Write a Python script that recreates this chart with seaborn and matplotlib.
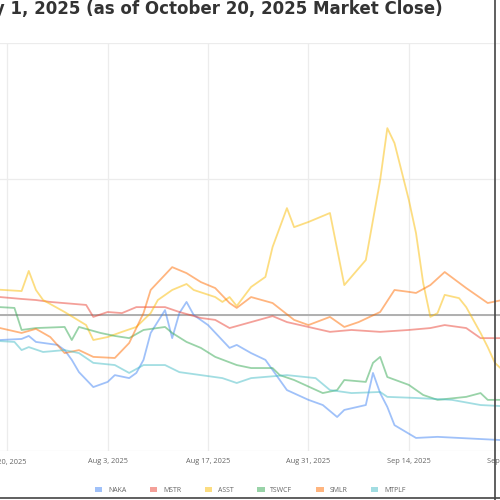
import pandas as pd
import numpy as np
import matplotlib
matplotlib.use("Agg")
import matplotlib.pyplot as plt
from matplotlib.patches import Patch
from matplotlib.lines import Line2D
import seaborn as sns

# % change since Jul 1, 2025
naka_dates = ["2025-07-17", "2025-07-19", "2025-07-22", "2025-07-23", "2025-07-24", "2025-07-27",
              "2025-07-28", "2025-07-29", "2025-07-30", "2025-08-01", "2025-08-03", "2025-08-04",
              "2025-08-06", "2025-08-07", "2025-08-08", "2025-08-09", "2025-08-11", "2025-08-12",
              "2025-08-13", "2025-08-14", "2025-08-15", "2025-08-17", "2025-08-20", "2025-08-21",
              "2025-08-23", "2025-08-25", "2025-08-27", "2025-08-28", "2025-08-31", "2025-09-02",
              "2025-09-04", "2025-09-05", "2025-09-08", "2025-09-09", "2025-09-10", "2025-09-11",
              "2025-09-12", "2025-09-15", "2025-09-18", "2025-09-27", "2025-09-30"]
naka_vals = [-9.6, -9.2, -8.8, -7.7, -9.9, -11.0, -12.9, -16.5, -21.0, -26.5, -24.6, -22.1,
             -23.2, -21.3, -16.5, -6.6, 1.8, -8.5, 0.7, 4.8, 0.0, -3.7, -12.1, -11.0,
             -14.0, -16.5, -23.9, -27.6, -31.2, -33.1, -37.5, -34.9, -33.1, -21.3, -28.7, -33.8,
             -40.5, -45.2, -44.8, -46.0, -46.5]

mstr_dates = ["2025-07-17", "2025-07-19", "2025-07-22", "2025-07-24", "2025-07-26", "2025-07-31",
              "2025-08-01", "2025-08-03", "2025-08-05", "2025-08-07", "2025-08-11", "2025-08-13",
              "2025-08-16", "2025-08-18", "2025-08-20", "2025-08-23", "2025-08-26", "2025-08-28",
              "2025-08-31", "2025-09-03", "2025-09-06", "2025-09-10", "2025-09-14", "2025-09-17",
              "2025-09-19", "2025-09-22", "2025-09-24", "2025-09-27", "2025-09-30"]
mstr_vals = [6.6, 6.6, 5.9, 5.5, 4.8, 3.7, -0.7, 1.1, 0.7, 2.9, 2.9, 1.1,
             -1.1, -1.8, -4.8, -2.6, -0.4, -2.6, -4.4, -6.2, -5.5, -6.2, -5.5, -4.8,
             -3.7, -4.8, -8.5, -8.5, -9.0]

asst_dates = ["2025-07-17", "2025-07-22", "2025-07-23", "2025-07-24", "2025-07-25", "2025-07-28",
              "2025-07-31", "2025-08-01", "2025-08-03", "2025-08-05", "2025-08-07", "2025-08-09",
              "2025-08-10", "2025-08-12", "2025-08-14", "2025-08-15", "2025-08-18", "2025-08-19",
              "2025-08-20", "2025-08-21", "2025-08-23", "2025-08-25", "2025-08-26", "2025-08-28",
              "2025-08-29", "2025-08-31", "2025-09-03", "2025-09-05", "2025-09-08", "2025-09-10",
              "2025-09-11", "2025-09-12", "2025-09-14", "2025-09-15", "2025-09-16", "2025-09-17",
              "2025-09-18", "2025-09-19", "2025-09-21", "2025-09-22", "2025-09-24", "2025-09-25",
              "2025-09-26", "2025-09-29"]
asst_vals = [9.6, 8.8, 16.2, 9.2, 5.5, 1.1, -3.7, -9.2, -8.1, -6.2, -4.4, 0.7,
             5.5, 9.2, 11.4, 9.2, 6.6, 4.8, 6.6, 3.3, 10.3, 14.0, 25.0, 39.3,
             32.3, 34.2, 37.5, 11.0, 20.2, 49.6, 68.7, 63.2, 42.3, 30.1, 11.8, -0.7,
             0.7, 7.4, 6.2, 2.9, -6.6, -11.8, -17.6, -25.0]

tswcf_dates = ["2025-07-17", "2025-07-19", "2025-07-21", "2025-07-22", "2025-07-24", "2025-07-28",
               "2025-07-29", "2025-07-30", "2025-08-02", "2025-08-04", "2025-08-06", "2025-08-08",
               "2025-08-11", "2025-08-12", "2025-08-14", "2025-08-16", "2025-08-18", "2025-08-21",
               "2025-08-23", "2025-08-26", "2025-08-27", "2025-08-29", "2025-09-02", "2025-09-04",
               "2025-09-05", "2025-09-08", "2025-09-09", "2025-09-10", "2025-09-11", "2025-09-14",
               "2025-09-16", "2025-09-18", "2025-09-22", "2025-09-24", "2025-09-25", "2025-09-27",
               "2025-09-30"]
tswcf_vals = [2.9, 2.9, 2.6, -5.5, -4.8, -4.4, -9.2, -4.4, -6.6, -7.7, -8.5, -5.5,
              -4.4, -6.6, -9.9, -12.1, -15.4, -18.4, -19.5, -19.5, -22.1, -23.9, -28.7, -27.6,
              -23.9, -24.6, -17.6, -15.4, -22.8, -25.7, -29.4, -31.2, -30.1, -28.7, -31.2, -31.2,
              -31.5]

smlr_dates = ["2025-07-17", "2025-07-19", "2025-07-22", "2025-07-24", "2025-07-26", "2025-07-28",
              "2025-07-30", "2025-08-01", "2025-08-04", "2025-08-06", "2025-08-08", "2025-08-09",
              "2025-08-12", "2025-08-14", "2025-08-16", "2025-08-18", "2025-08-20", "2025-08-21",
              "2025-08-23", "2025-08-26", "2025-08-29", "2025-08-31", "2025-09-03", "2025-09-05",
              "2025-09-07", "2025-09-10", "2025-09-12", "2025-09-14", "2025-09-15", "2025-09-17",
              "2025-09-19", "2025-09-22", "2025-09-25", "2025-09-27", "2025-09-30"]
smlr_vals = [-4.8, -4.8, -6.6, -5.1, -8.1, -14.0, -12.9, -15.4, -15.8, -10.3, 0.7, 9.2,
             17.6, 15.4, 12.1, 9.9, 4.4, 2.6, 6.6, 4.4, -1.8, -3.7, -0.7, -4.4,
             -2.6, 1.1, 9.2, 8.5, 8.1, 11.0, 15.8, 9.9, 4.4, 5.5, 6.0]

mtplf_dates = ["2025-07-17", "2025-07-19", "2025-07-21", "2025-07-22", "2025-07-23", "2025-07-25",
               "2025-07-28", "2025-07-30", "2025-08-01", "2025-08-04", "2025-08-06", "2025-08-08",
               "2025-08-11", "2025-08-13", "2025-08-16", "2025-08-19", "2025-08-21", "2025-08-23",
               "2025-08-28", "2025-09-01", "2025-09-03", "2025-09-06", "2025-09-10", "2025-09-11",
               "2025-09-15", "2025-09-20", "2025-09-24", "2025-09-27", "2025-09-30"]
mtplf_vals = [-9.6, -9.6, -9.9, -12.9, -11.8, -13.6, -12.9, -14.0, -17.6, -18.4, -21.3, -18.4,
              -18.4, -21.0, -22.1, -23.2, -25.0, -23.2, -22.1, -23.2, -27.6, -28.7, -28.3, -30.1,
              -30.5, -31.2, -33.1, -33.5, -34.0]

tickers = ["NAKA", "MSTR", "ASST", "TSWCF", "SMLR", "MTPLF"]
colors = ["#4285F4", "#EA4335", "#FBBC04", "#34A853", "#FF6D01", "#46BDC6"]
series = {
    "NAKA": (naka_dates, naka_vals),
    "MSTR": (mstr_dates, mstr_vals),
    "ASST": (asst_dates, asst_vals),
    "TSWCF": (tswcf_dates, tswcf_vals),
    "SMLR": (smlr_dates, smlr_vals),
    "MTPLF": (mtplf_dates, mtplf_vals),
}

frames = []
for t in tickers:
    d, v = series[t]
    frames.append(pd.DataFrame({"Date": pd.to_datetime(d), "Change": v, "Ticker": t}))
df = pd.concat(frames, ignore_index=True)

sns.set_style("white")
plt.rcParams["font.family"] = ["Open Sans", "DejaVu Sans"]

fig = plt.figure(figsize=(5, 5), dpi=100)
# the reference is a crop of a wider chart: the axes run past both figure edges
ax = fig.add_axes([-0.258, 0.098, 1.592, 0.816])

palette = dict(zip(tickers, colors))
sns.lineplot(data=df, x="Date", y="Change", hue="Ticker", palette=palette,
             linewidth=1.3, alpha=0.5, legend=False, ax=ax)

ax.axhline(0, color="#aaaaaa", linewidth=1.3, zorder=1)

ax.set_xlim(pd.Timestamp("2025-07-01"), pd.Timestamp("2025-10-20"))
ax.set_ylim(-50, 100)
ax.set_yticks([-50, 0, 50, 100])
ax.set_yticklabels(["-50%", "0%", "50%", "100%"])

tick_dates = pd.date_range("2025-07-06", "2025-10-20", freq="14D")
ax.set_xticks(tick_dates)
ax.set_xticklabels([f"{t:%b} {t.day}, {t.year}" for t in tick_dates])
ax.tick_params(axis="both", length=0, labelsize=5.3, labelcolor="#666666", pad=5)

ax.grid(True, color="#ececec", linewidth=0.9)
ax.set_axisbelow(True)
for s in ax.spines.values():
    s.set_visible(False)
ax.set_xlabel("")
ax.set_ylabel("")

fig.text(443 / 500, 0.981, "Price Performance Since July 1, 2025 (as of October 20, 2025 Market Close)",
         ha="right", va="center", fontsize=12, fontweight="bold", color="#333333",
         family="DejaVu Sans")

handles = [Patch(facecolor=c, alpha=0.5, edgecolor="none") for c in colors]
fig.legend(handles, tickers, loc="center", bbox_to_anchor=(0.5, 0.02), ncol=6,
           frameon=False, fontsize=5, labelcolor="#666666", handlelength=1.1,
           handleheight=0.7, handletextpad=0.8, columnspacing=3.4)

# frame edge visible at the right and bottom of the crop
fig.add_artist(Line2D([0.99, 0.99], [0, 1], transform=fig.transFigure, color="#444444", linewidth=1.2))
fig.add_artist(Line2D([0, 1], [0.004, 0.004], transform=fig.transFigure, color="#444444", linewidth=1.2))

fig.savefig("out.png", dpi=100)
